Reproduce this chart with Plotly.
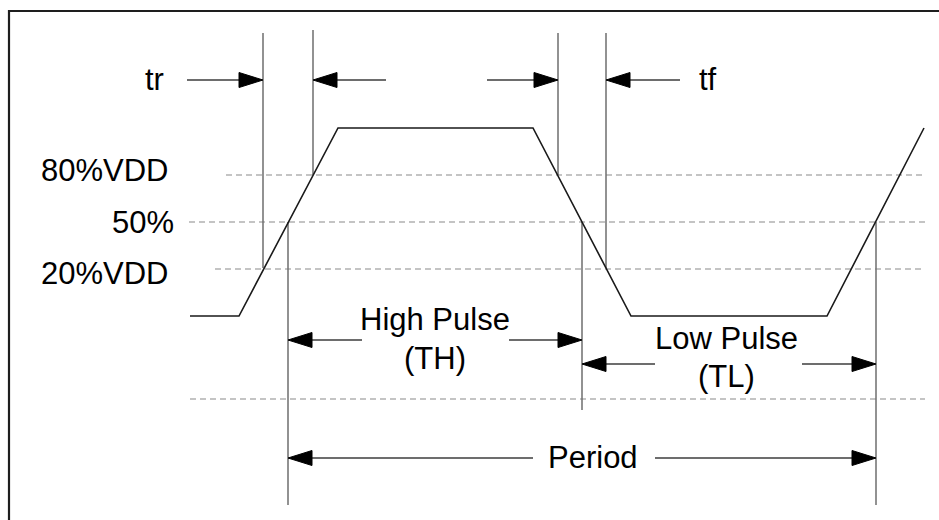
import plotly.graph_objects as go

W, H = 939, 520

# Waveform vertices (diagram px coordinates: x = time, y = level, y axis reversed)
wave_x = [190, 239, 338, 533, 631, 827, 924]
wave_y = [316, 316, 128, 128, 316, 316, 128]

# Horizontal dashed reference levels
dash_levels = [175, 222, 269, 399]
dash_x_start = [226, 189, 215, 190]
dash_x_end = 925

# Vertical measurement lines: x, y_top, y_bottom
vline_x = [263, 313, 288, 558, 606, 582, 876]
vline_top = [33, 30, 222, 33, 33, 222, 222]
vline_bot = [268, 175, 505, 175, 268, 410, 505]

# Arrows: y, tip x, direction (+1 points right, -1 points left), far end of shaft
arrow_y = [80, 80, 80, 80, 340, 340, 364, 364, 458, 458]
arrow_tip = [263, 313, 558, 606, 288, 582, 582, 876, 288, 876]
arrow_dir = [1, -1, 1, -1, -1, 1, -1, 1, -1, 1]
arrow_tail = [187, 386, 487, 680, 362, 509, 655, 802, 533, 655]
HEAD_LEN, HEAD_HALF = 24, 7.5

# Text labels
label_text = ["tr", "tf", "80%VDD", "50%", "20%VDD", "High Pulse", "(TH)",
              "Low Pulse", "(TL)", "Period"]
label_x = [154, 697, 171, 176, 171, 435, 435, 726, 726, 593]
label_y = [79, 79, 170, 222, 273, 319, 358, 338, 376, 457]
label_anchor = ["center", "left", "right", "right", "right", "center", "center",
                "center", "center", "center"]

fig = go.Figure()

# frame edges drawn as thin filled bars (left and top edges only are in view)
fig.add_shape(type="rect", x0=8, y0=9.9, x1=939, y1=12.1,
              line=dict(width=0), fillcolor="#1e1e1e")
fig.add_shape(type="rect", x0=7.9, y0=9.9, x1=10.1, y1=520,
              line=dict(width=0), fillcolor="#1e1e1e")

# dashed levels
for lv, xs in zip(dash_levels, dash_x_start):
    fig.add_trace(go.Scatter(x=[xs, dash_x_end], y=[lv, lv], mode="lines",
                             line=dict(color="#8a8a8a", width=1.1, dash="6px,4px"),
                             hoverinfo="skip"))

# vertical lines
vx, vy = [], []
for x, t, b in zip(vline_x, vline_top, vline_bot):
    vx += [x, x, None]
    vy += [t, b, None]
fig.add_trace(go.Scatter(x=vx, y=vy, mode="lines",
                         line=dict(color="#6e6e6e", width=1.5), hoverinfo="skip"))

# waveform
fig.add_trace(go.Scatter(x=wave_x, y=wave_y, mode="lines",
                         line=dict(color="#1a1a1a", width=1.6), hoverinfo="skip"))

# arrow shafts and heads
sx, sy, hx, hy = [], [], [], []
for y, tip, d, tail in zip(arrow_y, arrow_tip, arrow_dir, arrow_tail):
    base = tip - d * HEAD_LEN
    sx += [tail, base, None]
    sy += [y, y, None]
    hx += [tip, base, base, tip, None]
    hy += [y, y - HEAD_HALF, y + HEAD_HALF, y, None]
fig.add_trace(go.Scatter(x=sx, y=sy, mode="lines",
                         line=dict(color="#3c3c3c", width=1.4), hoverinfo="skip"))
fig.add_trace(go.Scatter(x=hx, y=hy, mode="lines", fill="toself",
                         fillcolor="#000000", line=dict(color="#000000", width=1),
                         hoverinfo="skip"))

for t, x, y, a in zip(label_text, label_x, label_y, label_anchor):
    fig.add_annotation(x=x, y=y, text=t, showarrow=False, xanchor=a, yanchor="middle",
                       font=dict(family="Liberation Sans, Arial, sans-serif", size=31,
                                 color="#000000"))

fig.update_layout(
    width=W, height=H, margin=dict(l=0, r=0, t=0, b=0),
    paper_bgcolor="white", plot_bgcolor="white", showlegend=False,
    xaxis=dict(range=[0, W], visible=False, fixedrange=True),
    yaxis=dict(range=[H, 0], visible=False, fixedrange=True),
)

fig.write_html("out.html", config={"displayModeBar": False},
               post_script="document.body.style.margin='0';document.body.style.overflow='hidden';")
